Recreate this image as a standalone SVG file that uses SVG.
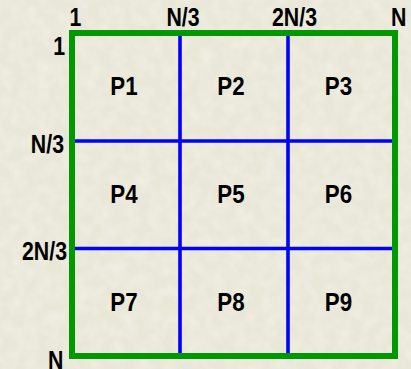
<svg xmlns="http://www.w3.org/2000/svg" width="411" height="369" viewBox="0 0 411 369">
<style>
.lbl{font-family:"Liberation Sans",Arial,sans-serif;font-weight:bold;font-size:26px;fill:#000;text-anchor:middle;}
.ax{font-family:"Liberation Sans",Arial,sans-serif;font-weight:bold;font-size:26px;fill:#000;}
.mid{text-anchor:middle;}
.end{text-anchor:end;}
.grid{stroke:#0000ff;stroke-width:3.6;fill:none;}
.frame{stroke:#009900;stroke-width:6;fill:none;}
</style>
<defs>
<filter id="tex" x="0" y="0" width="100%" height="100%">
<feTurbulence type="fractalNoise" baseFrequency="0.08" numOctaves="2" seed="3"/>
<feColorMatrix type="matrix" values="0 0 0 0 1  0 0 0 0 1  0 0 0 0 0.97  0 0 0 -1.6 1.05"/>
</filter>
</defs>
<rect width="411" height="369" fill="#e9e7d8"/>
<rect width="411" height="369" filter="url(#tex)" opacity="0.35"/>
<g id="connectors">
<line class="grid" x1="180" y1="35" x2="180" y2="355"/>
<line class="grid" x1="288" y1="35" x2="288" y2="355"/>
<line class="grid" x1="74" y1="141" x2="393" y2="141"/>
<line class="grid" x1="74" y1="248.5" x2="393" y2="248.5"/>
</g>
<g id="frame"><rect class="frame" x="72" y="33" width="323" height="323"/></g>
<g id="axis-top">
<text class="ax mid" transform="translate(75.5,26) scale(0.82,1)">1</text>
<text class="ax mid" transform="translate(183,26) scale(0.82,1)">N/3</text>
<text class="ax mid" transform="translate(294.5,26) scale(0.82,1)">2N/3</text>
<text class="ax mid" transform="translate(398.8,26) scale(0.82,1)">N</text>
</g>
<g id="axis-left">
<text class="ax end" transform="translate(65,55) scale(0.82,1)">1</text>
<text class="ax end" transform="translate(64,152.5) scale(0.82,1)">N/3</text>
<text class="ax end" transform="translate(67,260) scale(0.82,1)">2N/3</text>
<text class="ax end" transform="translate(63.5,368.5) scale(0.82,1)">N</text>
</g>
<g id="P1"><text class="lbl" transform="translate(124,95) scale(0.86,1)">P1</text></g>
<g id="P2"><text class="lbl" transform="translate(231,95) scale(0.86,1)">P2</text></g>
<g id="P3"><text class="lbl" transform="translate(338.5,95) scale(0.86,1)">P3</text></g>
<g id="P4"><text class="lbl" transform="translate(124,203) scale(0.86,1)">P4</text></g>
<g id="P5"><text class="lbl" transform="translate(231,203) scale(0.86,1)">P5</text></g>
<g id="P6"><text class="lbl" transform="translate(338.5,203) scale(0.86,1)">P6</text></g>
<g id="P7"><text class="lbl" transform="translate(124,310.5) scale(0.86,1)">P7</text></g>
<g id="P8"><text class="lbl" transform="translate(231,310.5) scale(0.86,1)">P8</text></g>
<g id="P9"><text class="lbl" transform="translate(338.5,310.5) scale(0.86,1)">P9</text></g>
</svg>
